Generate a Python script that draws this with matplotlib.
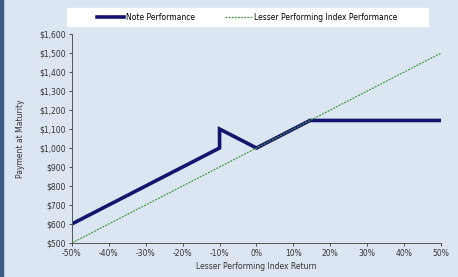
import matplotlib.pyplot as plt
from matplotlib.ticker import FuncFormatter

# index return (%) and payment at maturity ($)
note_x = [-50, -10, -10, 0, 14.5, 50]
note_y = [600, 1000, 1100, 1000, 1145, 1145]
index_x = [-50, 50]
index_y = [500, 1500]

xticks = list(range(-50, 51, 10))
yticks = list(range(500, 1601, 100))

bg = '#dce6f2'
plt.rcParams['font.family'] = ['Liberation Sans Narrow', 'DejaVu Sans']

fig = plt.figure(figsize=(4.58, 2.77), dpi=100, facecolor=bg)
ax = fig.add_axes([0.157, 0.123, 0.806, 0.754])
ax.set_facecolor(bg)

ax.plot(note_x, note_y, color='#14146e', lw=2.6, solid_joinstyle='miter',
        label='Note Performance')
ax.plot(index_x, index_y, color='#3c9a3c', lw=0.9, ls=(0, (1.5, 1)),
        label='Lesser Performing Index Performance')

ax.set_xlim(-50, 50)
ax.set_ylim(500, 1600)
ax.set_xticks(xticks)
ax.set_yticks(yticks)
ax.xaxis.set_major_formatter(FuncFormatter(lambda v, p: f'{int(v)}%'))
ax.yaxis.set_major_formatter(FuncFormatter(lambda v, p: f'${int(v):,}'))
ax.tick_params(labelsize=5.5, length=2.5, width=0.6, colors='#333333', pad=2)

for s in ['top', 'right']:
    ax.spines[s].set_visible(False)
for s in ['left', 'bottom']:
    ax.spines[s].set_color('#555555')
    ax.spines[s].set_linewidth(0.7)

ax.set_xlabel('Lesser Performing Index Return', fontsize=5.5, color='#333333', labelpad=3)
ax.set_ylabel('Payment at Maturity', fontsize=5.5, color='#333333', labelpad=10)

# white legend box across the top
fig.patches.append(plt.Rectangle((0.146, 0.906), 0.788, 0.065,
                                 transform=fig.transFigure, color='white', zorder=1))
fig.legend(loc='center', bbox_to_anchor=(0.54, 0.938), ncol=2, fontsize=5.5,
           frameon=False, handlelength=3.5, handletextpad=0.3, columnspacing=4)

# dark strip on the left edge
fig.patches.append(plt.Rectangle((0, 0), 0.007, 1, transform=fig.transFigure,
                                 color='#3b5a86', zorder=10))

fig.savefig('out.png', dpi=100, facecolor=bg)
